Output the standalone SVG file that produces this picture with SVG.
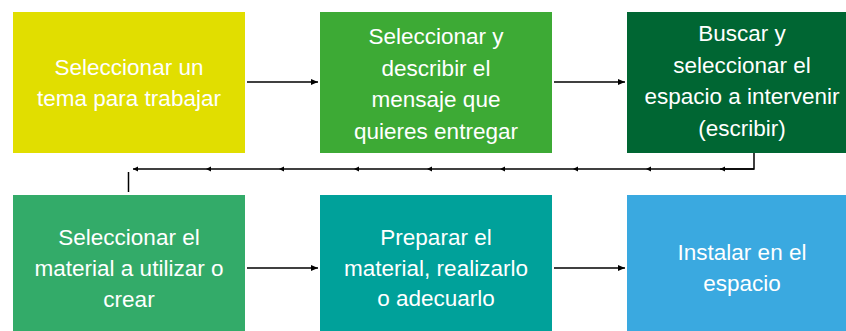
<svg xmlns="http://www.w3.org/2000/svg" width="846" height="331" viewBox="0 0 846 331">
<defs>
<marker id="ah" markerWidth="8" markerHeight="8" refX="7" refY="4" orient="auto" markerUnits="userSpaceOnUse">
<path d="M0,1 L7,4 L0,7 Z" fill="#000"/>
</marker>
<marker id="sh" markerWidth="6" markerHeight="6" refX="5" refY="3" orient="auto" markerUnits="userSpaceOnUse">
<path d="M0,0.5 L5,3 L0,5.5 Z" fill="#000"/>
</marker>
<style>
.t{font-family:"Liberation Sans",Arial,sans-serif;font-size:22.5px;fill:#fff;text-anchor:middle}
.c{stroke:#000;stroke-width:1.5;fill:none}
</style>
</defs>
<rect width="846" height="331" fill="#fff"/>
<g id="connectors">
<line class="c" x1="247" y1="82" x2="318" y2="82" marker-end="url(#ah)"/>
<line class="c" x1="554" y1="82" x2="625" y2="82" marker-end="url(#ah)"/>
<polyline class="c" points="754,153 754,169 720,169" />
<line class="c" x1="754" y1="169" x2="720" y2="169" marker-end="url(#sh)"/>
<line class="c" x1="720" y1="169" x2="646" y2="169" marker-end="url(#sh)"/>
<line class="c" x1="646" y1="169" x2="573" y2="169" marker-end="url(#sh)"/>
<line class="c" x1="573" y1="169" x2="500" y2="169" marker-end="url(#sh)"/>
<line class="c" x1="500" y1="169" x2="427" y2="169" marker-end="url(#sh)"/>
<line class="c" x1="427" y1="169" x2="354" y2="169" marker-end="url(#sh)"/>
<line class="c" x1="354" y1="169" x2="279" y2="169" marker-end="url(#sh)"/>
<line class="c" x1="279" y1="169" x2="206" y2="169" marker-end="url(#sh)"/>
<line class="c" x1="206" y1="169" x2="133" y2="169" marker-end="url(#sh)"/>
<line class="c" x1="128.5" y1="172" x2="128.5" y2="192"/>
<line class="c" x1="247" y1="268" x2="318" y2="268" marker-end="url(#ah)"/>
<line class="c" x1="554" y1="268" x2="625" y2="268" marker-end="url(#ah)"/>
</g>
<g id="n1">
<rect x="13" y="12" width="232" height="141" fill="#E1DE00"/>
<text class="t" x="129" y="75">Seleccionar un</text>
<text class="t" x="129" y="106">tema para trabajar</text>
</g>
<g id="n2">
<rect x="320" y="12" width="232" height="141" fill="#3DAA35"/>
<text class="t" x="436" y="44">Seleccionar y</text>
<text class="t" x="436" y="76">describir el</text>
<text class="t" x="436" y="107">mensaje que</text>
<text class="t" x="436" y="139">quieres entregar</text>
</g>
<g id="n3">
<rect x="627" y="12" width="232" height="141" fill="#006633"/>
<text class="t" x="742" y="41">Buscar y</text>
<text class="t" x="742" y="73">seleccionar el</text>
<text class="t" x="742" y="104">espacio a intervenir</text>
<text class="t" x="742" y="136">(escribir)</text>
</g>
<g id="n4">
<rect x="13" y="195" width="232" height="136" fill="#33AB69"/>
<text class="t" x="129" y="245">Seleccionar el</text>
<text class="t" x="129" y="276">material a utilizar o</text>
<text class="t" x="129" y="307">crear</text>
</g>
<g id="n5">
<rect x="320" y="195" width="232" height="136" fill="#00A19A"/>
<text class="t" x="436" y="245">Preparar el</text>
<text class="t" x="436" y="276">material, realizarlo</text>
<text class="t" x="436" y="306">o adecuarlo</text>
</g>
<g id="n6">
<rect x="627" y="195" width="232" height="136" fill="#3AA9E0"/>
<text class="t" x="742" y="260">Instalar en el</text>
<text class="t" x="742" y="291">espacio</text>
</g>
</svg>
